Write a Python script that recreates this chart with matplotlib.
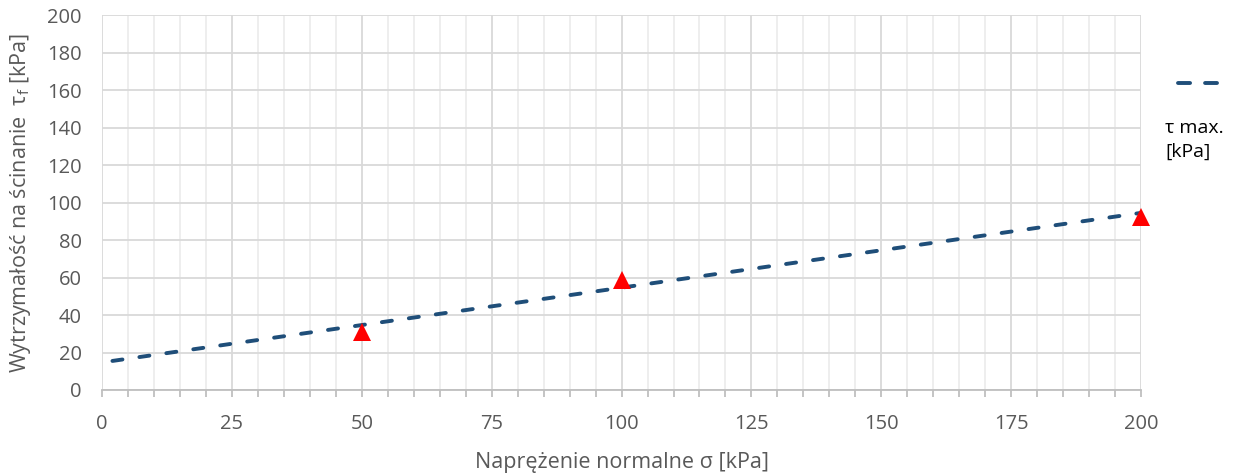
""" Shear strength vs normal stress (direct shear test) """

import matplotlib.pyplot as plt
from matplotlib.lines import Line2D
from matplotlib.ticker import MultipleLocator

# Measured points
sigma_pts = [50, 100, 200]
tau_pts = [31.0, 58.5, 92.3]

# Fitted envelope (tau max.)
sigma_line = [2, 200]
tau_line = [15.5, 94.5]

x_ticks = [0, 25, 50, 75, 100, 125, 150, 175, 200]
y_ticks = [0, 20, 40, 60, 80, 100, 120, 140, 160, 180, 200]

TEXT = "#595959"
plt.rcParams['font.family'] = ['Open Sans', 'DejaVu Sans']

fig = plt.figure(figsize=(12.34, 4.73), dpi=100)
ax = fig.add_axes([0.0827, 0.1755, 0.842, 0.7925])

# Grid
ax.xaxis.set_minor_locator(MultipleLocator(5))
ax.set_xticks(x_ticks)
ax.set_yticks(y_ticks)
ax.grid(which="major", color="#D9D9D9", linewidth=1.3)
ax.grid(which="minor", axis="x", color="#EDEDED", linewidth=1.3)
ax.set_axisbelow(True)

ax.plot(sigma_line, tau_line, color="#1F4E79", linewidth=2.8,
        dashes=(2.6, 4.4), dash_capstyle="round", zorder=3)
ax.plot(sigma_pts, tau_pts, linestyle="none", marker="^", markersize=13.5,
        color="#FF0000", markeredgewidth=0, zorder=4, clip_on=False)

ax.set_xlim(0, 200)
ax.set_ylim(0, 200)

for side in ["top", "right", "left"]:
    ax.spines[side].set_visible(False)
ax.spines["bottom"].set_color("#BFBFBF")
ax.spines["bottom"].set_linewidth(1.3)

ax.tick_params(axis="y", length=0, pad=14.5, labelsize=14.5, labelcolor=TEXT)
ax.tick_params(axis="x", which="both", length=5, color="#BFBFBF", width=1.3,
               pad=12, labelsize=14.5, labelcolor=TEXT)

ax.set_xlabel("Naprężenie normalne σ [kPa]", fontsize=15.5, color=TEXT, labelpad=13)
ax.set_ylabel("Wytrzymałość na ścinanie  τ$_\\mathregular{f}$ [kPa]", fontsize=15.5,
              color=TEXT, labelpad=10)

# Legend on the right
fig.add_artist(Line2D([0.9546, 0.9862], [0.825, 0.825], transform=fig.transFigure,
                      color="#1F4E79", linewidth=2.8, dashes=(3.1, 3.86),
                      dash_capstyle="round"))
fig.text(0.944, 0.705, "τ max.\n[kPa]", fontsize=14, color="black",
         va="center", ha="left", linespacing=1.4)

fig.savefig("out.png", dpi=100)
